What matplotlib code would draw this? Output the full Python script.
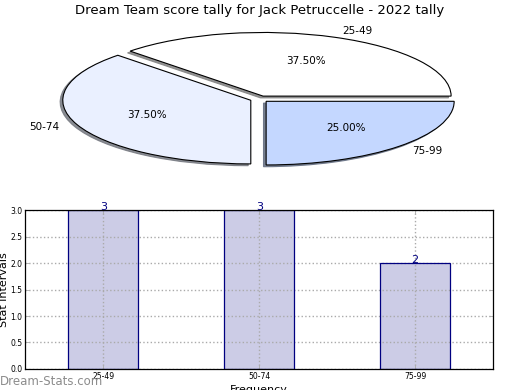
import matplotlib
matplotlib.use("Agg")
import matplotlib.pyplot as plt

categories = ["25-49", "50-74", "75-99"]
counts = [3, 3, 2]
pie_colors = ["#FFFFFF", "#EAF0FF", "#C4D7FF"]
title = "Dream Team score tally for Jack Petruccelle - 2022 tally"

fig = plt.figure(figsize=(5.2, 3.9), dpi=100)

# Pie (squashed ellipse)
ax1 = fig.add_axes([0.047, 0.542, 0.904, 0.408])
wedges, texts, autotexts = ax1.pie(
    counts, labels=categories, colors=pie_colors, autopct="%.2f%%",
    startangle=0, explode=(0.05, 0.05, 0.05),
    shadow=dict(ox=-0.01, oy=-0.02, shade=0.5, alpha=0.85),
    wedgeprops=dict(edgecolor="black", linewidth=0.8),
    textprops=dict(fontsize=7.5), pctdistance=0.6, labeldistance=1.1)
ax1.set_aspect("auto")
ax1.set_xlim(-1.25, 1.25)
ax1.set_ylim(-1.25, 1.25)
fig.text(0.5, 0.973, title, ha="center", va="center", fontsize=9.5)

# Bars
ax2 = fig.add_axes([0.049, 0.054, 0.899, 0.407])
x = list(range(len(categories)))
ax2.bar(x, counts, width=0.45, color="#CCCCE6", edgecolor="none", zorder=1)
ax2.bar(x, counts, width=0.45, facecolor="none", edgecolor="#000080",
        linewidth=0.9, zorder=3.5)
for xi, c in zip(x, counts):
    ax2.text(xi, c + 0.01, str(c), ha="center", va="baseline", fontsize=8,
             color="#000080", zorder=5)
ax2.set_xlim(-0.5, 2.5)
ax2.set_ylim(0, 3)
ax2.set_xticks(x)
ax2.set_xticklabels(categories, fontsize=5.5)
ax2.set_yticks([0, 0.5, 1.0, 1.5, 2.0, 2.5, 3.0])
ax2.set_yticklabels(["0.0", "0.5", "1.0", "1.5", "2.0", "2.5", "3.0"], fontsize=5.5)
ax2.tick_params(axis="both", direction="in", length=3, width=0.6, color="#AAAAAA",
                pad=2, right=True, top=True)
ax2.set_axisbelow(False)
ax2.grid(True, linestyle=":", color="#AAAAAA", linewidth=1, zorder=3)
for s in ax2.spines.values():
    s.set_linewidth(0.9)
    s.set_zorder(4)
ax2.set_ylabel("Stat intervals", fontsize=8, labelpad=2)
ax2.set_xlabel("Frequency", fontsize=8, labelpad=3)
ax2.yaxis.set_label_coords(-0.035, 0.5)

fig.text(0.0, 0.023, "Dream-Stats.com", ha="left", va="center", fontsize=8.5,
         color="#8C8C8C", zorder=6)

fig.savefig("out.png", dpi=100)
